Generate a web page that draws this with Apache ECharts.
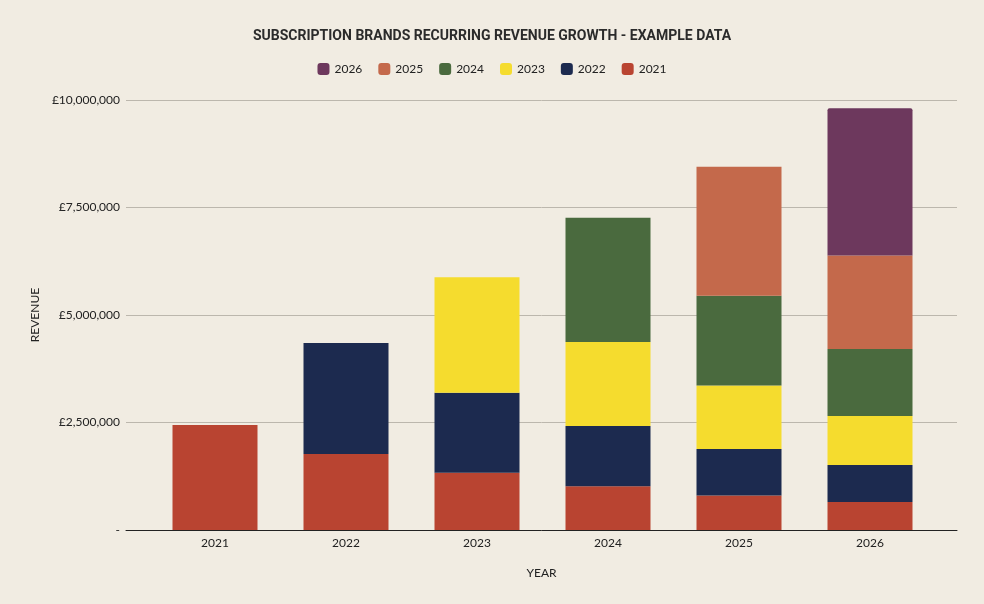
<!DOCTYPE html>
<html>
<head>
<meta charset="utf-8">
<script src="https://cdn.jsdelivr.net/npm/echarts@6/dist/echarts.min.js"></script>
<style>
  html, body { margin: 0; padding: 0; background: #f1ece2; }
  #chart { width: 984px; height: 604px; }
</style>
</head>
<body>
<div id="chart"></div>
<script>
const years = ["2021", "2022", "2023", "2024", "2025", "2026"];

// revenue per cohort year, stacked per reporting year
const rev2021 = [2440000, 1770000, 1330000, 1020000, 800000, 650000];
const rev2022 = [null, 2580000, 1860000, 1400000, 1085000, 860000];
const rev2023 = [null, null, 2690000, 1955000, 1475000, 1140000];
const rev2024 = [null, null, null, 2885000, 2085000, 1560000];
const rev2025 = [null, null, null, null, 3005000, 2175000];
const rev2026 = [null, null, null, null, null, 3425000];

const yTicks = [0, 2500000, 5000000, 7500000, 10000000];

const colors = {
  "2021": "#b94431",
  "2022": "#1c2a4f",
  "2023": "#f5dc2e",
  "2024": "#4a6a3e",
  "2025": "#c4694b",
  "2026": "#6d385d",
};

const seriesData = [rev2021, rev2022, rev2023, rev2024, rev2025, rev2026];

function formatPounds(v) {
  if (v === 0) return "-";
  return "£" + v.toLocaleString("en-GB");
}

const chart = echarts.init(document.getElementById("chart"));

const option = {
  backgroundColor: "#f1ece2",
  textStyle: { fontFamily: "Lato, 'Open Sans', sans-serif" },
  title: {
    text: "SUBSCRIPTION BRANDS RECURRING REVENUE GROWTH - EXAMPLE DATA",
    left: "center",
    top: 24,
    textStyle: {
      fontFamily: "Roboto, sans-serif",
      fontSize: 14,
      fontWeight: "bold",
      color: "#2b2b2b",
    },
  },
  legend: {
    top: 58,
    left: "center",
    itemWidth: 12,
    itemHeight: 12,
    itemGap: 16,
    icon: "roundRect",
    data: years.slice().reverse(),
    textStyle: { fontSize: 12, color: "#222" },
  },
  grid: [
    { left: 126, right: 27, top: 100, bottom: 74 },
    { left: 149.5, right: 48.5, top: 100, bottom: 74 },
  ],
  xAxis: [
    {
      gridIndex: 0,
      type: "value",
      min: 0,
      max: 1,
      name: "YEAR",
      nameLocation: "middle",
      nameGap: 37,
      nameTextStyle: { fontSize: 12, color: "#222" },
      axisLine: { show: true, onZero: false, lineStyle: { color: "#222", width: 1 } },
      axisTick: { show: false },
      axisLabel: { show: false },
      splitLine: { show: false },
    },
    {
      gridIndex: 1,
      type: "category",
      data: years,
      axisLine: { show: false },
      axisTick: { show: false },
      axisLabel: { margin: 7, fontSize: 12, color: "#222" },
    },
  ],
  yAxis: [
    {
      gridIndex: 0,
      type: "value",
      min: yTicks[0],
      max: yTicks[yTicks.length - 1],
      interval: 2500000,
      name: "REVENUE",
      nameLocation: "middle",
      nameGap: 85,
      nameTextStyle: { fontSize: 12, color: "#222" },
      axisLine: { show: false },
      axisTick: { show: false },
      axisLabel: {
        margin: 6,
        fontSize: 12,
        color: "#222",
        formatter: (v) => formatPounds(v),
      },
      splitLine: { show: true, lineStyle: { color: "#bcb7ad", width: 1 } },
    },
    {
      gridIndex: 1,
      type: "value",
      min: yTicks[0],
      max: yTicks[yTicks.length - 1],
      show: false,
      splitLine: { show: false },
    },
  ],
  series: years.map((y, i) => ({
    name: y,
    type: "bar",
    stack: "total",
    xAxisIndex: 1,
    yAxisIndex: 1,
    barWidth: 85,
    data: seriesData[i],
    itemStyle: {
      color: colors[y],
      borderRadius: y === "2026" ? [2, 2, 0, 0] : 0,
    },
    emphasis: { disabled: true },
  })),
};

chart.setOption(option);
</script>
</body>
</html>
